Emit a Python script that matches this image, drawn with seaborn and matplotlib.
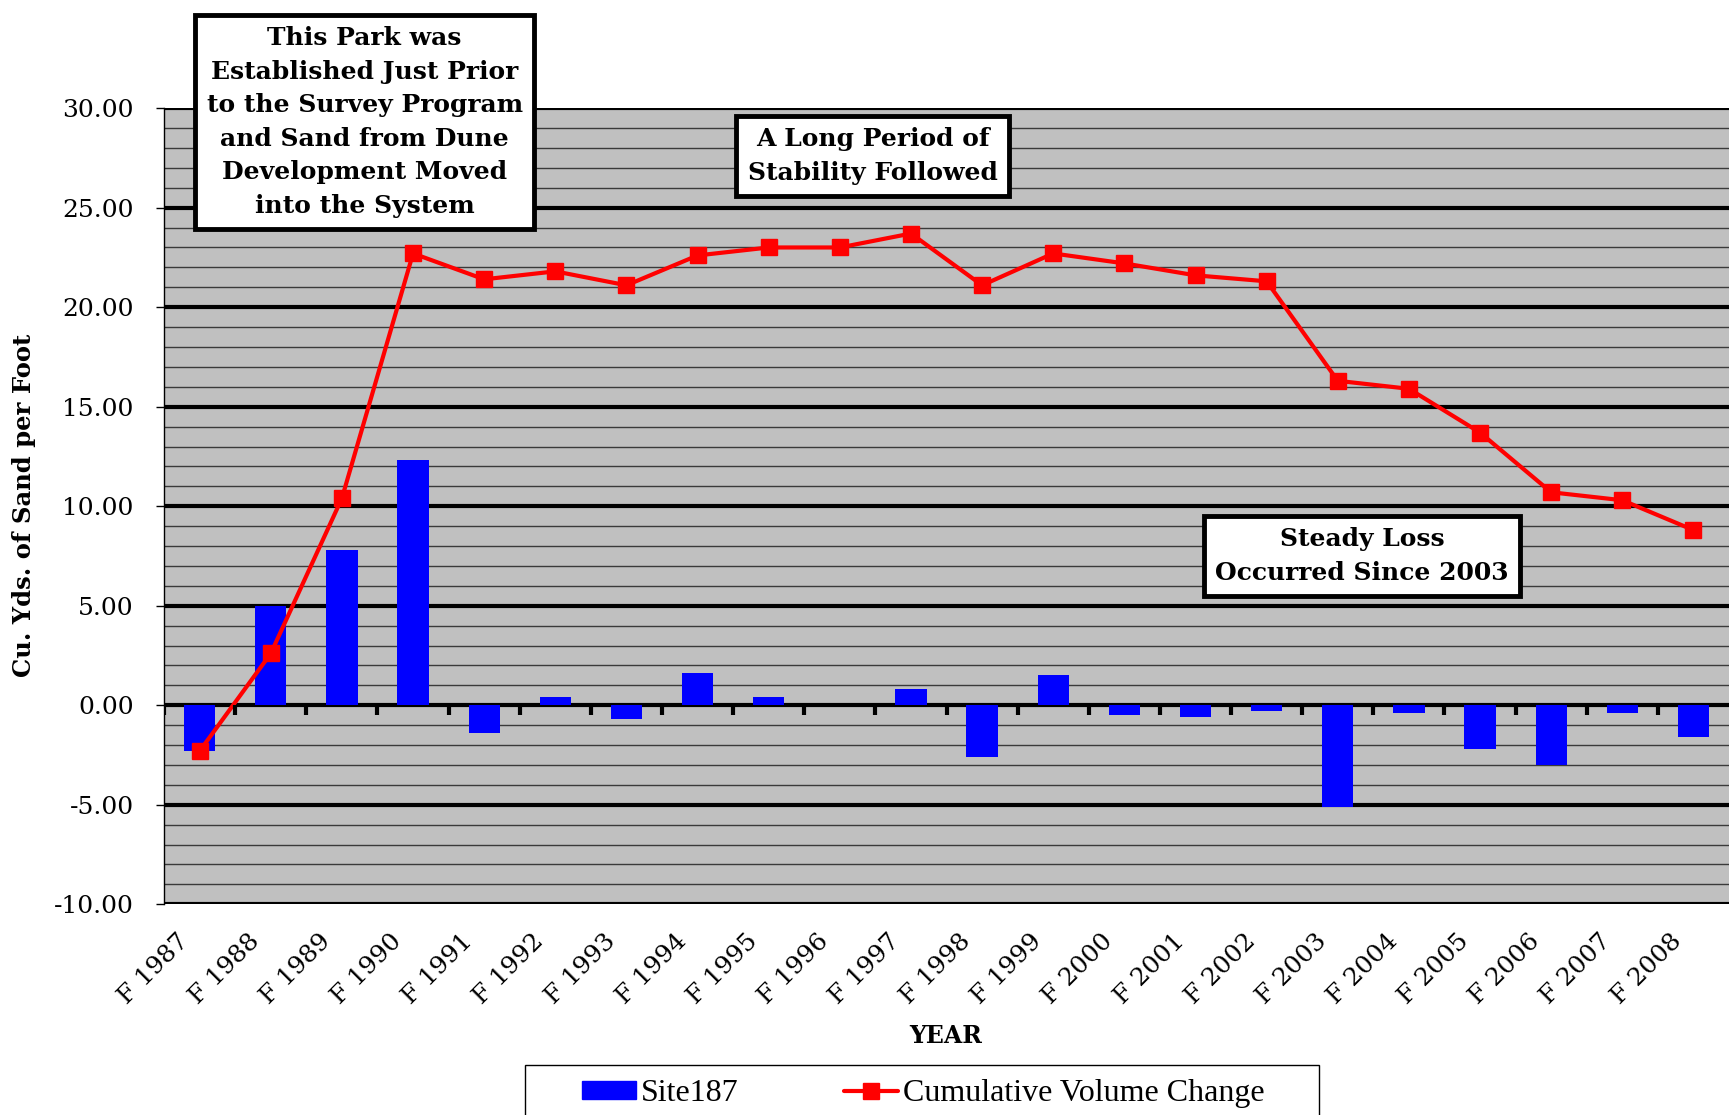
import matplotlib
matplotlib.use("Agg")
import matplotlib.pyplot as plt
import matplotlib.transforms as mtransforms
import numpy as np
import pandas as pd
import seaborn as sns
from matplotlib.lines import Line2D
from matplotlib.patches import Patch, Rectangle

# data
years = ['F 1987', 'F 1988', 'F 1989', 'F 1990', 'F 1991', 'F 1992', 'F 1993',
         'F 1994', 'F 1995', 'F 1996', 'F 1997', 'F 1998', 'F 1999', 'F 2000',
         'F 2001', 'F 2002', 'F 2003', 'F 2004', 'F 2005', 'F 2006', 'F 2007',
         'F 2008']
site187 = [-2.3, 5.0, 7.8, 12.3, -1.4, 0.4, -0.7, 1.6, 0.4, 0.0, 0.8, -2.6,
           1.5, -0.5, -0.6, -0.3, -5.1, -0.4, -2.2, -3.0, -0.4, -1.6]
cumulative = [-2.3, 2.6, 10.4, 22.7, 21.4, 21.8, 21.1, 22.6, 23.0, 23.0, 23.7,
              21.1, 22.7, 22.2, 21.6, 21.3, 16.3, 15.9, 13.7, 10.7, 10.3, 8.8]

df = pd.DataFrame({'year': years, 'site': site187, 'cum': cumulative})

sns.set_style("white")
plt.rcParams['font.family'] = ['DejaVu Serif']
plt.rcParams['text.color'] = 'black'
plt.rcParams['xtick.color'] = 'black'
plt.rcParams['ytick.color'] = 'black'

fig = plt.figure(figsize=(17.29, 11.15), dpi=100)
ax = fig.add_axes([0.0949, 0.189, 0.9051, 0.714])
ax.set_facecolor('#C0C0C0')

sns.barplot(data=df, x='year', y='site', color='#0000FF', saturation=1,
            width=0.44, edgecolor='none', linewidth=0, ax=ax, zorder=3)
ax.plot(np.arange(len(years)), df['cum'], color='#FF0000', lw=3.0,
        marker='s', markersize=11, zorder=4)

ax.set_xlim(-0.5, len(years) - 0.5)
ax.set_ylim(-10, 30)
ax.set_yticks(np.arange(-10, 31, 5))
ax.set_yticklabels([f"{v:.2f}" for v in np.arange(-10, 31, 5)])
ax.set_yticks(np.arange(-10, 31, 1), minor=True)
ax.grid(axis='y', which='major', color='black', lw=3.0, zorder=1)
ax.grid(axis='y', which='minor', color='#3a3a3a', lw=1.0, zorder=1)
ax.set_axisbelow(True)

for s in ['top', 'right', 'bottom']:
    ax.spines[s].set_visible(False)
ax.spines['left'].set_color('black')
ax.spines['left'].set_linewidth(1.0)

ax.tick_params(axis='y', which='major', direction='out', length=6, width=1,
               labelsize=18, left=True, pad=16)
ax.tick_params(axis='y', which='minor', length=0)
ax.tick_params(axis='x', length=0, labelsize=18, pad=18)
shift = mtransforms.ScaledTranslation(-23 / 100, 0, fig.dpi_scale_trans)
for lab in ax.get_xticklabels():
    lab.set_rotation(45)
    lab.set_ha('right')
    lab.set_va('top')
    lab.set_rotation_mode('anchor')
    lab.set_transform(lab.get_transform() + shift)

# category boundary ticks on the zero line
ax.vlines(np.arange(len(years)) - 0.5, 0, -0.5, color='black', lw=3, zorder=5)

ax.set_xlabel('')
ax.set_ylabel('')
fig.text(24 / 1729, 1 - 505 / 1115, 'Cu. Yds. of Sand per Foot', rotation=90,
         ha='center', va='center', fontsize=17.5, fontweight='bold')
fig.text(946 / 1729, 1 - 1036 / 1115, 'YEAR', ha='center', va='center',
         fontsize=17, fontweight='bold')

box = dict(boxstyle='square,pad=0.45', fc='white', ec='black', lw=3.5)
ax.text(2.32, 29.3, 'This Park was\nEstablished Just Prior\nto the Survey Program\n'
        'and Sand from Dune\nDevelopment Moved\ninto the System',
        ha='center', va='center', fontsize=18, fontweight='bold',
        linespacing=1.5, bbox=box, zorder=6, clip_on=False)
ax.text(9.46, 27.6, 'A Long Period of\nStability Followed', ha='center',
        va='center', fontsize=18, fontweight='bold', linespacing=1.5,
        bbox=box, zorder=6)
ax.text(16.34, 7.5, 'Steady Loss\nOccurred Since 2003', ha='center',
        va='center', fontsize=18, fontweight='bold', linespacing=1.5,
        bbox=box, zorder=6)

handles = [Patch(color='#0000FF', label='Site187'),
           Line2D([], [], color='#FF0000', lw=3, marker='s', markersize=11,
                  label='Cumulative Volume Change')]
fig.legend(handles=handles, loc='center', ncol=2,
           bbox_to_anchor=(0.534, 0.019), frameon=False,
           prop={'family': 'Liberation Serif', 'size': 23},
           handlelength=1.7, handleheight=0.5, handletextpad=0.15,
           columnspacing=3.3, borderpad=0, borderaxespad=0)
fig.patches.append(Rectangle((525 / 1729, -0.05), (1319 - 525) / 1729,
                             0.05 + 1 - 1065 / 1115, transform=fig.transFigure,
                             fill=False, ec='black', lw=1.0))

fig.savefig('out.png', dpi=100)
